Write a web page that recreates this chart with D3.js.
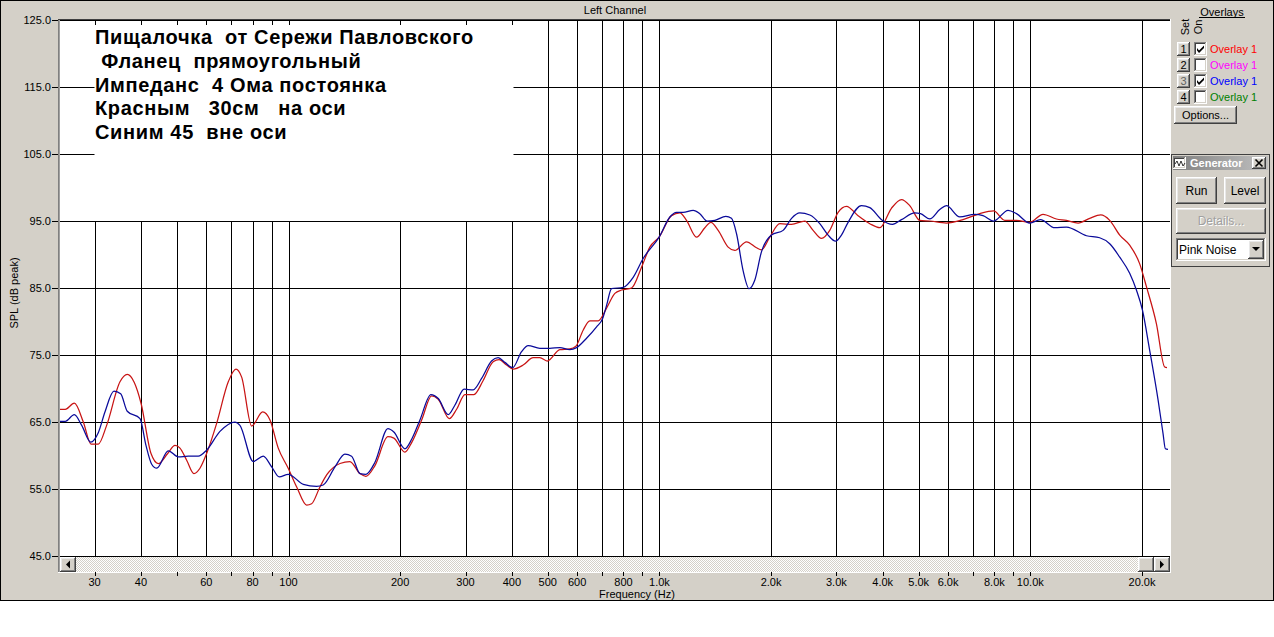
<!DOCTYPE html>
<html><head><meta charset="utf-8">
<script src="https://cdn.jsdelivr.net/npm/d3@7"></script>
<style>
body{margin:0;background:#fff;}
svg{display:block;font-family:"Liberation Sans",Arial,sans-serif;}
</style>
</head><body>
<svg id="c" width="1274" height="637"></svg>
<script>
// ---------- DATA ----------
const chartTitle = "Left Channel";
const yAxisTitle = "SPL (dB peak)";
const xAxisTitle = "Frequency (Hz)";
const noteLines = [
  "Пищалочка  от Сережи Павловского",
  " Фланец  прямоугольный",
  "Импеданс  4 Ома постоянка",
  "Красным   30см   на оси",
  "Синим 45  вне оси"
];
const yTickValues = [45, 55, 65, 75, 85, 95, 105, 115, 125];
const yTickLabels = ["45.0","55.0","65.0","75.0","85.0","95.0","105.0","115.0","125.0"];
const xGridValues = [30,40,50,60,70,80,90,100,200,300,400,500,600,700,800,900,
  1000,2000,3000,4000,5000,6000,7000,8000,9000,10000,20000];
const xTickValues = [30,40,60,80,100,200,300,400,500,600,800,1000,2000,3000,4000,5000,6000,8000,10000,20000];
const xTickLabels = ["30","40","60","80","100","200","300","400","500","600","800","1.0k","2.0k","3.0k","4.0k","5.0k","6.0k","8.0k","10.0k","20.0k"];
const xDomain = [24.2, 23800];
const yDomain = [45, 125];

// Red: 30 cm on axis
const redFreq = [24.2,25.0,26.45,27.97,29.34,30.69,32.33,35.12,36.74,38.38,40.02,42.58,44.56,47.23,49.42,50.97,53.13,55.59,57.7,60.14,64.0,68.79,72.15,74.75,79.54,85.15,89.12,93.81,99.8,105.2,111.9,115.4,121.5,126.7,137.6,146.4,155.8,161.7,171.0,185.3,192.3,205.9,215.1,228.5,243.1,253.3,271.3,283.9,298.9,316.0,334.8,356.2,369.7,387.1,403.3,429.1,456.6,476.0,498.1,538.9,573.4,595.2,622.7,649.2,683.6,720.2,758.3,790.5,841.2,894.9,942.1,998,1078,1135,1183,1259,1326,1376,1440,1532,1597,1717,1827,1884,1984,2111,2271,2465,2596,2735,2879,3032,3194,3432,3692,3928,4222,4494,4730,5033,5356,5939,6586,7305,7964,8531,9174,9963,10820,11760,12510,13450,14460,15480,16370,17420,18530,19720,20560,21870,23030,23360];
const redDb = [66.9,66.9,67.8,65.0,61.7,61.7,64.5,71.0,72.1,70.9,67.8,60.3,58.8,60.3,61.5,61.1,59.3,57.3,58.1,60.3,64.8,71.0,72.9,71.7,64.4,66.5,65.3,61.1,58.1,55.3,52.6,52.8,55.3,57.1,58.8,59.1,57.3,56.9,58.5,62.8,62.6,60.5,62.0,65.3,68.9,68.4,65.5,66.9,69.1,69.1,71.2,74.0,74.3,73.5,72.9,73.5,74.6,74.6,74.1,75.8,75.9,76.3,78.7,80.1,80.1,82.0,84.2,84.7,85.0,88.1,91.1,92.6,95.8,96.2,95.1,92.6,94.0,94.8,93.6,91.1,90.6,91.9,91.0,90.7,92.6,94.6,94.5,95.0,93.6,92.4,93.6,96.3,97.2,95.8,94.6,94.0,96.9,98.2,97.3,95.1,95.0,94.7,95.2,96.1,96.5,95.1,95.1,94.8,96.0,95.3,95.1,94.7,95.4,95.9,95.1,92.9,91.4,88.6,85.2,79.7,73.2,73.1];

// Blue: 45 degrees off axis
const blueFreq = [24.2,25.0,26.45,27.69,29.29,30.69,31.99,33.83,35.27,36.74,39.77,41.27,42.76,44.12,47.4,50.43,53.66,57.09,60.14,65.33,71.7,73.96,80.34,85.46,90.06,94.38,99.8,109.6,119.0,124.0,133.4,141.9,147.9,155.8,161.7,171.0,185.3,192.3,205.9,215.1,226.1,242.0,253.3,269.6,280.8,297.6,314.7,331.5,352.6,367.4,383.0,401.8,424.9,442.8,476.0,506.5,538.9,573.4,597.8,636.1,676.9,702.4,720.2,742.9,798.5,849.6,903.9,998,1067,1112,1158,1233,1285,1345,1411,1510,1564,1614,1681,1745,1808,1884,2005,2155,2271,2390,2544,2706,2849,2984,3096,3226,3505,3692,3970,4249,4494,4880,5055,5356,5699,5939,6453,7081,7456,7964,8708,9174,9963,10650,11640,12510,14170,15380,16370,17420,18530,19320,20060,20980,22100,22790,23130,23510];
const blueDb = [65.1,65.1,66.1,64.5,62.0,63.4,66.5,69.6,69.2,66.6,65.5,61.5,58.7,58.1,60.7,59.8,59.9,59.9,60.8,63.6,65.0,64.5,59.1,59.9,58.3,56.8,57.2,55.7,55.4,55.6,58.3,60.2,59.9,57.3,57.2,59.0,64.0,63.5,61.0,62.5,65.3,69.1,68.5,66.1,67.5,69.9,69.8,71.5,74.1,74.6,73.9,73.1,75.5,76.4,76.0,76.0,76.1,75.8,76.1,77.5,79.2,80.4,82.4,84.9,85.1,86.6,89.4,92.6,95.6,96.3,96.3,96.6,96.1,95.0,95.1,95.7,95.4,93.1,87.6,84.9,86.2,90.4,92.9,93.6,95.4,96.2,95.9,94.6,92.9,92.0,92.9,94.8,97.3,97.0,95.2,94.5,95.2,96.2,96.1,95.3,96.7,97.3,95.6,96.0,95.8,95.0,96.6,96.1,94.7,95.2,94.0,94.1,92.8,92.5,91.6,89.6,87.2,84.7,81.7,75.7,68.3,63.3,61.0,60.9];

const overlaySets = ["1","2","3","4"];
const overlayNames = ["Overlay 1","Overlay 1","Overlay 1","Overlay 1"];
const overlayColors = ["#ff0000","#ff00ff","#0000ff","#008000"];
const overlayOn = [true,false,true,false];
const seriesColors = ["#c81414","#0a0a9a"];

// ---------- DRAW ----------
const svg = d3.select("#c");
const W = 1274, H = 637;
const plot = {l:60, r:1170, t:20, b:556};
const x = d3.scaleLog().domain(xDomain).range([plot.l, plot.r]);
const y = d3.scaleLinear().domain(yDomain).range([plot.b, plot.t]);
const px = v => Math.round(x(v)) + 0.5;
const py = v => Math.round(y(v)) + 0.5;
const FACE = "#d4d0c8";

const defs = svg.append("defs");
const pat = defs.append("pattern").attr("id","dither").attr("width",2).attr("height",2).attr("patternUnits","userSpaceOnUse");
pat.append("rect").attr("width",2).attr("height",2).attr("fill","#ffffff");
pat.append("rect").attr("width",1).attr("height",1).attr("fill",FACE);
pat.append("rect").attr("x",1).attr("y",1).attr("width",1).attr("height",1).attr("fill",FACE);
const grad = defs.append("linearGradient").attr("id","tbar");
grad.append("stop").attr("offset","0").attr("stop-color","#808080");
grad.append("stop").attr("offset","1").attr("stop-color","#c0c0c0");

// window
svg.append("rect").attr("x",0).attr("y",0).attr("width",W).attr("height",H).attr("fill","#fff");
svg.append("rect").attr("x",0.5).attr("y",0.5).attr("width",1273).attr("height",600)
  .attr("fill",FACE).attr("stroke","#000");

// chart title
svg.append("text").attr("x",(plot.l+plot.r)/2).attr("y",14).attr("text-anchor","middle")
  .attr("font-size",11).attr("fill","#000").text(chartTitle);

// plot background
svg.append("rect").attr("x",plot.l).attr("y",plot.t).attr("width",plot.r-plot.l).attr("height",plot.b-plot.t).attr("fill","#fff");

// grid
const grid = svg.append("g").attr("stroke","#000").attr("stroke-width",1).attr("shape-rendering","crispEdges");
grid.selectAll(".hg").data(yTickValues).join("line")
  .attr("x1",plot.l).attr("x2",plot.r).attr("y1",d=>py(d)).attr("y2",d=>py(d));
grid.selectAll(".vg").data(xGridValues).join("line")
  .attr("x1",d=>px(d)).attr("x2",d=>px(d)).attr("y1",plot.t).attr("y2",plot.b);

// note box masking the grid
const boxR = px(400) + 1;
svg.append("rect").attr("x",px(30)-1).attr("y",plot.t+1).attr("width",boxR-(px(30)-1)).attr("height",py(95)-plot.t-1.5).attr("fill","#fff");

// top ticks
svg.append("g").attr("stroke","#000").attr("shape-rendering","crispEdges")
  .selectAll("line").data(xGridValues).join("line")
  .attr("x1",d=>px(d)).attr("x2",d=>px(d)).attr("y1",plot.t).attr("y2",plot.t+5);

// note text
svg.append("g").selectAll("text").data(noteLines).join("text")
  .attr("x",95).attr("y",(d,i)=>44+i*23.75)
  .attr("font-size",20).attr("font-weight","bold").attr("letter-spacing",0.65).attr("fill","#000")
  .style("white-space","pre").text(d=>d);

// curves
const line = d3.line().x(d=>x(d[0])).y(d=>y(d[1])).curve(d3.curveMonotoneX);
const clip = defs.append("clipPath").attr("id","pc");
clip.append("rect").attr("x",plot.l).attr("y",plot.t).attr("width",plot.r-plot.l).attr("height",plot.b-plot.t);
const curves = svg.append("g").attr("clip-path","url(#pc)").attr("fill","none").attr("stroke-width",1.25);
curves.append("path").datum(redFreq.map((f,i)=>[f,redDb[i]])).attr("stroke",seriesColors[0]).attr("d",line);
curves.append("path").datum(blueFreq.map((f,i)=>[f,blueDb[i]])).attr("stroke",seriesColors[1]).attr("d",line);

// plot borders (sunken)
const bord = svg.append("g").attr("shape-rendering","crispEdges");
bord.append("line").attr("x1",58).attr("x2",58).attr("y1",19).attr("y2",573).attr("stroke","#808080");
bord.append("line").attr("x1",59).attr("x2",59).attr("y1",19).attr("y2",573).attr("stroke","#a0a0a0");
bord.append("line").attr("x1",58).attr("x2",plot.r+1).attr("y1",19.5).attr("y2",19.5).attr("stroke","#404040");
bord.append("line").attr("x1",plot.r+0.5).attr("x2",plot.r+0.5).attr("y1",19).attr("y2",573).attr("stroke","#fff");
bord.append("line").attr("x1",58).attr("x2",plot.r+1).attr("y1",572.5).attr("y2",572.5).attr("stroke","#fff");

// y axis
const yAx = svg.append("g");
yAx.selectAll("line").data(yTickValues).join("line")
  .attr("x1",52).attr("x2",58).attr("y1",d=>py(d)).attr("y2",d=>py(d)).attr("stroke","#000").attr("shape-rendering","crispEdges");
yAx.selectAll("text").data(yTickValues).join("text")
  .attr("x",51).attr("y",d=>y(d)+4).attr("text-anchor","end").attr("font-size",11).attr("fill","#000")
  .text((d,i)=>yTickLabels[i]);
svg.append("text").attr("transform","translate(18,293) rotate(-90)").attr("text-anchor","middle")
  .attr("font-size",11).attr("fill","#000").text(yAxisTitle);

// bevel helper
function bevel(g, bx, by, w, h, fill, raised=true){
  const gg = g.append("g").attr("shape-rendering","crispEdges");
  gg.append("rect").attr("x",bx).attr("y",by).attr("width",w).attr("height",h).attr("fill",fill);
  const tl1 = raised ? "#ffffff" : "#808080", br1 = raised ? "#404040" : "#ffffff";
  const tl2 = raised ? "#e8e8e8" : "#404040", br2 = raised ? "#808080" : "#d4d0c8";
  gg.append("path").attr("d",`M${bx+0.5},${by+h}V${by+0.5}H${bx+w}`).attr("stroke",tl1).attr("fill","none");
  gg.append("path").attr("d",`M${bx},${by+h-0.5}H${bx+w-0.5}V${by}`).attr("stroke",br1).attr("fill","none");
  gg.append("path").attr("d",`M${bx+1.5},${by+h-1}V${by+1.5}H${bx+w-1}`).attr("stroke",tl2).attr("fill","none");
  gg.append("path").attr("d",`M${bx+1},${by+h-1.5}H${bx+w-1.5}V${by+1}`).attr("stroke",br2).attr("fill","none");
  return gg;
}

// scrollbar
const sb = svg.append("g");
sb.append("rect").attr("x",plot.l).attr("y",557).attr("width",plot.r-plot.l).attr("height",15).attr("fill","url(#dither)");
bevel(sb, 60, 557, 16, 15, FACE);
sb.append("path").attr("d","M70,560.5 L66,564.5 L70,568.5Z").attr("fill","#000");
bevel(sb, 1138, 557, 16, 15, FACE);
bevel(sb, 1154, 557, 16, 15, FACE);
sb.append("path").attr("d","M1160,560.5 L1164,564.5 L1160,568.5Z").attr("fill","#000");

// x axis ticks & labels
const xAx = svg.append("g");
xAx.selectAll("line").data(xGridValues).join("line")
  .attr("x1",d=>px(d)).attr("x2",d=>px(d)).attr("y1",572).attr("y2",576)
  .attr("stroke","#000").attr("shape-rendering","crispEdges");
xAx.selectAll("text").data(xTickValues).join("text")
  .attr("x",d=>x(d)).attr("y",586).attr("text-anchor","middle").attr("font-size",11).attr("fill","#000")
  .text((d,i)=>xTickLabels[i]);
svg.append("text").attr("x",637).attr("y",598).attr("text-anchor","middle").attr("font-size",11).attr("fill","#000").text(xAxisTitle);

// right panel: overlays
const rp = svg.append("g");
rp.append("text").attr("x",1222).attr("y",16).attr("text-anchor","middle").attr("font-size",11).text("Overlays");
rp.append("line").attr("x1",1199).attr("x2",1245).attr("y1",17.5).attr("y2",17.5).attr("stroke","#000");
rp.append("text").attr("transform","translate(1189,27) rotate(-90)").attr("text-anchor","middle").attr("font-size",11).text("Set");
rp.append("text").attr("transform","translate(1202,27) rotate(-90)").attr("text-anchor","middle").attr("font-size",11).text("On");
overlaySets.forEach((s,i)=>{
  const ty = 42 + i*16;
  bevel(rp, 1177, ty, 13, 14, FACE);
  rp.append("text").attr("x",1183.5).attr("y",ty+11).attr("text-anchor","middle").attr("font-size",11)
    .attr("fill", i===2 ? "#606060" : "#000").text(s);
  bevel(rp, 1194, ty, 13, 14, "#fff", false);
  if (overlayOn[i]) rp.append("path").attr("d",`M1197,${ty+6} l2,2.5 l5,-5 v2.5 l-5,5 l-2,-2.5z`).attr("fill","#000");
  rp.append("text").attr("x",1210).attr("y",ty+11).attr("font-size",11).attr("fill",overlayColors[i]).text(overlayNames[i]);
});
bevel(rp, 1174, 106, 63, 18, FACE);
rp.append("text").attr("x",1205.5).attr("y",119).attr("text-anchor","middle").attr("font-size",11).text("Options...");

// generator panel
const gp = svg.append("g");
gp.append("rect").attr("x",1171.5).attr("y",154.5).attr("width",98).attr("height",112).attr("fill",FACE).attr("stroke","#404040");
gp.append("rect").attr("x",1173).attr("y",156).attr("width",95).attr("height",14).attr("fill","url(#tbar)");
bevel(gp, 1173, 157, 13, 12, "#fff", false);
gp.append("path").attr("d","M1175,164 l2,-3 l2,5 l2,-5 l2,5 l2,-3").attr("stroke","#000").attr("fill","none").attr("stroke-width",0.8);
gp.append("text").attr("x",1190).attr("y",167).attr("font-size",11).attr("font-weight","bold").attr("fill","#fff").text("Generator");
bevel(gp, 1252, 157, 14, 12, FACE);
gp.append("path").attr("d","M1255.5,159.5 l7,7 M1262.5,159.5 l-7,7").attr("stroke","#000").attr("stroke-width",1.6);
bevel(gp, 1176, 177, 41, 27, FACE);
gp.append("text").attr("x",1196.5).attr("y",195).attr("text-anchor","middle").attr("font-size",12).text("Run");
bevel(gp, 1224, 177, 42, 27, FACE);
gp.append("text").attr("x",1245).attr("y",195).attr("text-anchor","middle").attr("font-size",12).text("Level");
bevel(gp, 1176, 208, 90, 26, FACE);
gp.append("text").attr("x",1222).attr("y",226).attr("text-anchor","middle").attr("font-size",12).attr("fill","#fff").text("Details...");
gp.append("text").attr("x",1221).attr("y",225).attr("text-anchor","middle").attr("font-size",12).attr("fill","#a0a0a0").text("Details...");
bevel(gp, 1176, 238, 90, 23, "#fff", false);
gp.append("text").attr("x",1179).attr("y",254).attr("font-size",12).text("Pink Noise");
bevel(gp, 1248, 240, 16, 19, FACE);
gp.append("path").attr("d","M1252,247 h8 l-4,4z").attr("fill","#000");
</script>
</body></html>
